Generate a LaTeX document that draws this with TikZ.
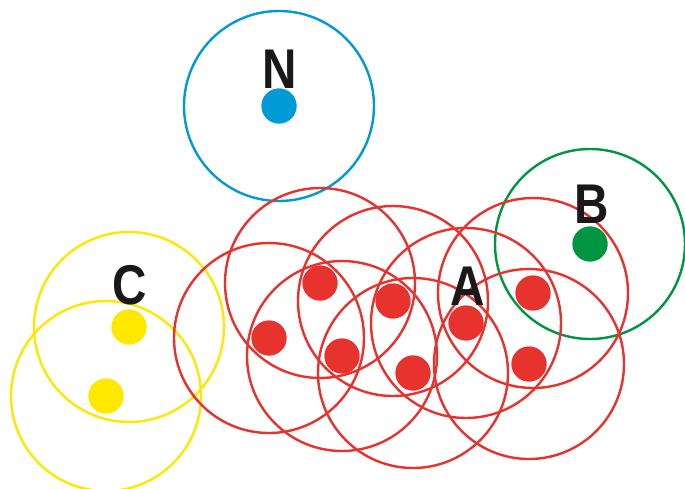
\documentclass[tikz,border=0pt]{standalone}
\usepackage{fontspec}
\setmainfont{Liberation Sans}
\definecolor{cblue}{RGB}{0,155,215}
\definecolor{cgreen}{RGB}{0,150,65}
\definecolor{cred}{RGB}{232,50,45}
\definecolor{cyellow}{RGB}{255,232,0}
\tikzset{
  dot/.style={circle,fill=#1,inner sep=0pt,minimum size=35pt},
  ring/.style={draw=#1,line width=2.4pt},
  lbl/.style={inner sep=0pt,font=\fontsize{56}{56}\selectfont\bfseries,text=black!90}
}
\begin{document}
\begin{tikzpicture}[x=1pt,y=-1pt]
\useasboundingbox[fill=white] (0,0) rectangle (685,488);
% dots
\node[dot=cblue] (n) at (279,106) {};
\node[dot=cgreen] (b) at (590,244) {};
\node[dot=cyellow] (c1) at (129,327) {};
\node[dot=cyellow] (c2) at (106,396) {};
\node[dot=cred] (r1) at (320,283) {};
\node[dot=cred] (r2) at (393,301) {};
\node[dot=cred] (r3) at (466,323) {};
\node[dot=cred] (r4) at (533,293) {};
\node[dot=cred] (r5) at (269,338) {};
\node[dot=cred] (r6) at (342,356) {};
\node[dot=cred] (r7) at (413,373) {};
\node[dot=cred] (r8) at (529,364) {};
% rings
\draw[ring=cblue] (n.center) circle[radius=95pt];
\draw[ring=cgreen] (b.center) circle[radius=95pt];
\draw[ring=cyellow] (c1.center) circle[radius=95pt];
\draw[ring=cyellow] (c2.center) circle[radius=95pt];
\foreach \r in {r1,r2,r3,r4,r5,r6,r7,r8}
  \draw[ring=cred] (\r.center) circle[radius=95pt];
% dots on top of rings
\foreach \d/\c in {n/cblue,b/cgreen,c1/cyellow,c2/cyellow,r1/cred,r2/cred,r3/cred,r4/cred,r5/cred,r6/cred,r7/cred,r8/cred}
  \fill[\c] (\d.center) circle[radius=17.5pt];
% labels
\node[lbl] (ln) at (279.5,69) {\scalebox{0.85}[1]{N}};
\node[lbl] (lb) at (591.5,204) {\scalebox{0.85}[1]{B}};
\node[lbl] (la) at (467.5,286) {\scalebox{0.85}[1]{A}};
\node[lbl] (lc) at (130,285) {\scalebox{0.85}[1]{C}};
\end{tikzpicture}
\end{document}
